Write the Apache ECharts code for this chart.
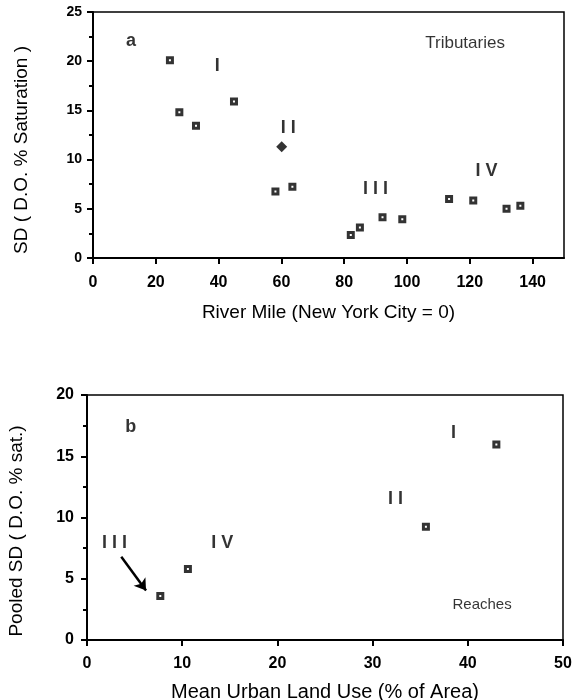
<!DOCTYPE html>
<html>
<head>
<meta charset="utf-8">
<script src="https://cdn.jsdelivr.net/npm/echarts@6/dist/echarts.min.js"></script>
<style>
html,body{margin:0;padding:0;background:#fff;}
#chart{width:572px;height:700px;}
</style>
</head>
<body>
<div id="chart"></div>
<script>
// panel a: tributaries
var riverMile = [24.5, 27.5, 32.8, 44.9, 58.1, 63.5, 82.1, 85.0, 92.2, 98.5, 113.4, 121.1, 131.7, 136.1];
var sdTrib = [20.1, 14.8, 13.45, 15.9, 6.75, 7.25, 2.35, 3.1, 4.15, 3.95, 6.0, 5.85, 5.0, 5.3];
var blobMile = [60.1];
var blobSd = [11.3];
// panel b: reaches
var urbanUse = [7.7, 10.6, 35.6, 43.0];
var pooledSd = [3.6, 5.8, 9.25, 15.95];
// annotations (text, x, y in data units)
var notesA = [['a', 12.1, 22], ['I', 39.6, 19.5], ['I I', 62.2, 13.2], ['I I I', 90, 7.0], ['I V', 125.3, 8.8]];
var notesB = [['b', 4.6, 17.4], ['I', 38.5, 16.9], ['I I', 32.4, 11.5], ['I I I', 2.9, 7.9], ['I V', 14.2, 7.9]];
var arrowB = [[3.6, 6.8], [6.2, 4.05]];

var font = 'Liberation Sans, Arial, sans-serif';

function pairs(xs, ys){
	var out = [];
	for(var i=0;i<xs.length;i++){
		out.push([xs[i], ys[i]]);
	}
	return out;
}
function noteData(list){
	return list.map(function(n){ return {name: n[0], value: [n[1], n[2]]}; });
}
function valueAxis(idx, min, max, interval, extra){
	var ax = {
		type: 'value', gridIndex: idx, min: min, max: max, interval: interval,
		splitLine: {show: false},
		axisLine: {show: true, onZero: false, lineStyle: {color: '#000', width: 2}},
		axisTick: {show: true, inside: false, length: 6, lineStyle: {color: '#000', width: 2}},
		nameLocation: 'middle'
	};
	for(var k in extra){ ax[k] = extra[k]; }
	return ax;
}
function tickFont(size, margin, more){
	var s = {color: '#000', fontFamily: font, fontSize: size, fontWeight: 'bold', margin: margin};
	for(var k in more){ s[k] = more[k]; }
	return s;
}
function nameFont(size, pad){
	return {color: '#000', fontFamily: font, fontSize: size, padding: pad || 0};
}
var minor = {show: true, splitNumber: 2, length: 4, lineStyle: {color: '#000', width: 2}};

var markerStyle = {color: '#fff', borderColor: '#000', borderWidth: 3};
var noteLabel = {show: true, position: 'inside', color: '#000', fontFamily: font, fontSize: 18, fontWeight: 'bold', formatter: '{b}'};

var myChart = echarts.init(document.getElementById('chart'));
var option = {
	backgroundColor: '#fff',
	animation: false,
	grid: [
		{left: 93, top: 12, width: 471, height: 246, show: true, borderColor: '#000', borderWidth: 1.5, backgroundColor: 'transparent', outerBoundsMode: 'none'},
		{left: 87, top: 395, width: 476, height: 245, show: true, borderColor: '#000', borderWidth: 1.5, backgroundColor: 'transparent', outerBoundsMode: 'none'}
	],
	xAxis: [
		valueAxis(0, 0, 150, 20, {name: 'River Mile (New York City = 0)', nameGap: 45, nameTextStyle: nameFont(19),
			axisLabel: tickFont(16, 17, {showMaxLabel: false})}),
		valueAxis(1, 0, 50, 10, {name: 'Mean Urban Land Use (% of Area)', nameGap: 42, nameTextStyle: nameFont(20),
			axisLabel: tickFont(16, 16)})
	],
	yAxis: [
		valueAxis(0, 0, 25, 5, {name: 'SD ( D.O. % Saturation )', nameGap: 62, nameTextStyle: nameFont(19, [0, 30, 0, 0]),
			minorTick: minor, axisLabel: tickFont(14, 11)}),
		valueAxis(1, 0, 20, 5, {name: 'Pooled SD ( D.O. % sat.)', nameGap: 61, nameTextStyle: nameFont(19, [0, 27, 0, 0]),
			minorTick: minor, axisLabel: tickFont(16, 13)})
	],
	series: [
		{
			type: 'scatter', xAxisIndex: 0, yAxisIndex: 0,
			symbol: 'rect', symbolSize: 5, itemStyle: markerStyle,
			data: pairs(riverMile, sdTrib)
		},{
			type: 'scatter', xAxisIndex: 0, yAxisIndex: 0,
			symbol: 'diamond', symbolSize: 11, itemStyle: {color: '#000'},
			data: pairs(blobMile, blobSd)
		},{
			type: 'scatter', xAxisIndex: 0, yAxisIndex: 0,
			symbolSize: 1, itemStyle: {color: 'transparent'}, label: noteLabel,
			data: noteData(notesA)
		},{
			type: 'scatter', xAxisIndex: 0, yAxisIndex: 0,
			symbolSize: 1, itemStyle: {color: 'transparent'},
			label: {show: true, position: 'inside', color: '#000', fontFamily: font, fontSize: 17, formatter: '{b}'},
			data: [{name: 'Tributaries', value: [118.5, 21.85]}]
		},{
			type: 'scatter', xAxisIndex: 1, yAxisIndex: 1,
			symbol: 'rect', symbolSize: 5, itemStyle: markerStyle,
			data: pairs(urbanUse, pooledSd),
			markLine: {
				silent: true, animation: false,
				symbol: ['none', 'arrow'], symbolSize: 11,
				lineStyle: {color: '#000', width: 2.5, type: 'solid'},
				label: {show: false},
				data: [[{coord: arrowB[0]}, {coord: arrowB[1]}]]
			}
		},{
			type: 'scatter', xAxisIndex: 1, yAxisIndex: 1,
			symbolSize: 1, itemStyle: {color: 'transparent'}, label: noteLabel,
			data: noteData(notesB)
		},{
			type: 'scatter', xAxisIndex: 1, yAxisIndex: 1,
			symbolSize: 1, itemStyle: {color: 'transparent'},
			label: {show: true, position: 'inside', color: '#000', fontFamily: font, fontSize: 15, formatter: '{b}'},
			data: [{name: 'Reaches', value: [41.5, 2.9]}]
		}
	]
};
myChart.setOption(option);
</script>
</body>
</html>
